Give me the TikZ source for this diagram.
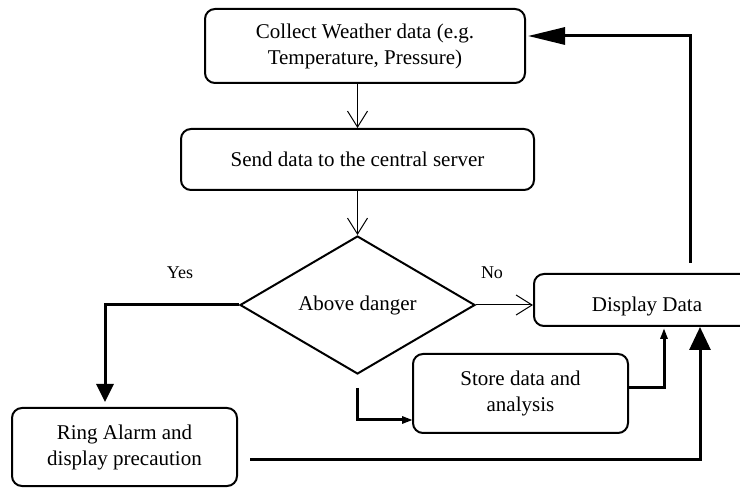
\documentclass[tikz,border=0pt]{standalone}
\usepackage{fontspec}
\setmainfont{Liberation Serif}
\usetikzlibrary{arrows.meta,shapes.geometric}

\begin{document}
\begin{tikzpicture}[x=1pt,y=-1pt,
  box/.style={draw,line width=2pt,rounded corners=10pt,inner sep=0pt,
    align=center,font=\fontsize{21}{26}\selectfont},
  decision/.style={draw,diamond,line width=2pt,inner sep=0pt,
    font=\fontsize{21}{26}\selectfont},
  lbl/.style={font=\fontsize{18}{22}\selectfont,inner sep=0pt},
  thinflow/.style={line width=1pt,-{Straight Barb[length=16pt,width=20pt,line width=1pt]}},
  thickflow/.style={line width=3pt},
  bighead/.style={-{Triangle[length=#1,width=17pt]}},
  smallhead/.style={line width=3pt,-{Triangle[length=11pt,width=7pt]}}
]
\useasboundingbox (0,0) rectangle (740,489);

% process steps
\node[box,minimum width=320pt,minimum height=74pt] (collect) at (365,46)
  {Collect Weather data (e.g.\\Temperature, Pressure)};
\node[box,minimum width=353pt,minimum height=61pt] (send) at (357.5,159.5)
  {Send data to the central server};
\node[decision,minimum width=235pt,minimum height=138pt] (danger) at (357.5,305)
  {Above danger};
\node[box,minimum width=225pt,minimum height=78pt] (alarm) at (124.5,447)
  {Ring Alarm and\\display precaution};
\node[box,minimum width=226pt,minimum height=52pt,text height=26pt,text depth=3.6pt]
  (display) at (647,300) {Display Data};
\node[box,minimum width=215pt,minimum height=79pt] (store) at (520.5,393.5)
  {Store data and\\analysis};

% branch labels
\node[lbl] (yes) at (180,273) {Yes};
\node[lbl] (no) at (492,273) {No};

% loose ends of the connectors
\coordinate (yesend) at (105,402);
\coordinate (storefrom) at (357,388);
\coordinate (storeto) at (413,420);
\coordinate (storeup) at (664,328);
\coordinate (alarmfrom) at (250,459);
\coordinate (alarmup) at (700,327);
\coordinate (loopfrom) at (690,263);
\coordinate (loopto) at (528,36);

% main flow
\draw[thinflow] (send.north |- collect.south) -- (send.north);
\draw[thinflow] (send.south) -- (danger.north);
\draw[thinflow] (danger.east) -- (display.west |- danger.east);

% yes branch
\draw[thickflow,bighead=18pt] (danger.west) -| (yesend);

% storage path
\draw[smallhead] (storefrom) |- (storeto);
\draw[smallhead] (store.east |- storefrom) -| (storeup);

% alarm result back to display
\draw[thickflow,-{Triangle[length=23pt,width=21pt]}] (alarmfrom) -| (alarmup);

% loop back to collection
\draw[thickflow,bighead=37pt] (loopfrom) |- (loopto);
\end{tikzpicture}
\end{document}
